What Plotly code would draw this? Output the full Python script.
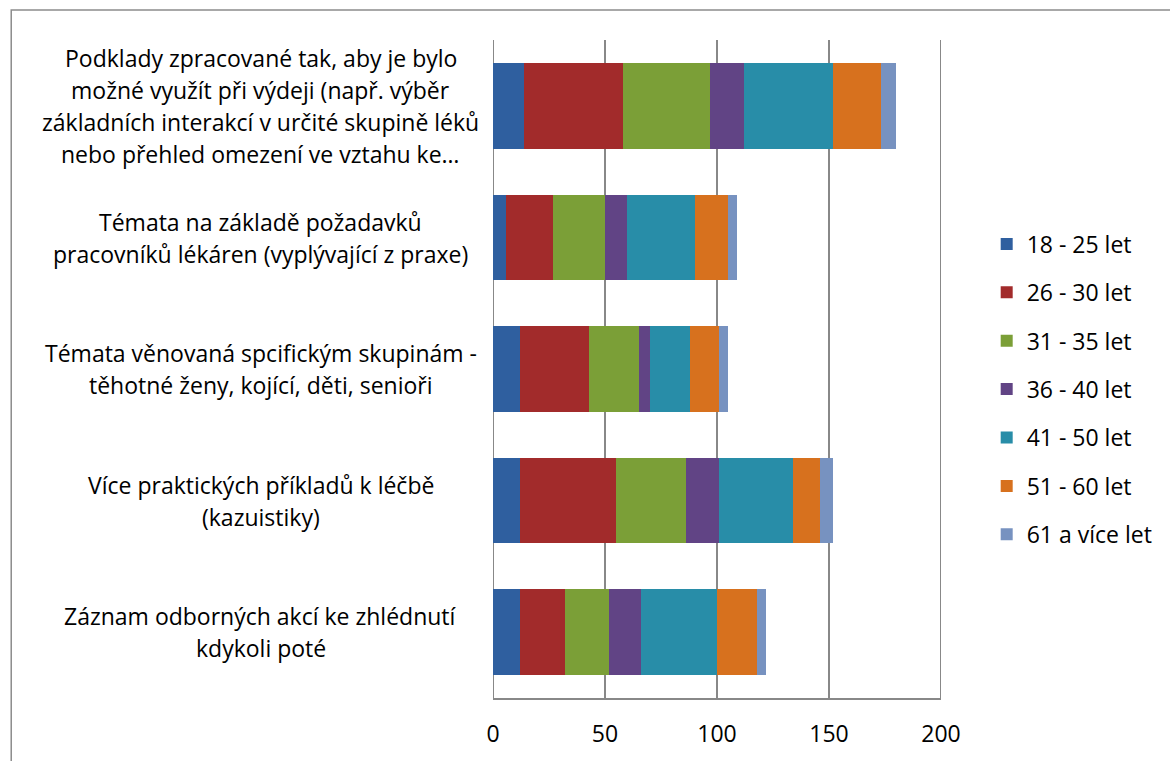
import plotly.graph_objects as go

# Survey topics (top to bottom), each split into text lines for the left-hand labels
topics = [
    ["Podklady zpracované tak, aby je bylo",
     "možné využít při výdeji (např. výběr",
     "základních interakcí v určité skupině léků",
     "nebo přehled omezení ve vztahu ke…"],
    ["Témata na základě požadavků",
     "pracovníků lékáren (vyplývající z praxe)"],
    ["Témata věnovaná spcifickým skupinám -",
     "těhotné ženy, kojící, děti, senioři"],
    ["Více praktických příkladů k léčbě",
     "(kazuistiky)"],
    ["Záznam odborných akcí ke zhlédnutí",
     "kdykoli poté"],
]
categories = [" ".join(t) for t in topics]

# Age groups and their counts per topic
age_groups = ["18 - 25 let", "26 - 30 let", "31 - 35 let", "36 - 40 let",
              "41 - 50 let", "51 - 60 let", "61 a více let"]
age_18_25 = [14, 6, 12, 12, 12]
age_26_30 = [44, 21, 31, 43, 20]
age_31_35 = [39, 23, 22, 31, 20]
age_36_40 = [15, 10, 5, 15, 14]
age_41_50 = [40, 30, 18, 33, 34]
age_51_60 = [21, 15, 13, 12, 18]
age_61_up = [7, 4, 4, 6, 4]
series = [age_18_25, age_26_30, age_31_35, age_36_40, age_41_50, age_51_60, age_61_up]

x_ticks = [0, 50, 100, 150, 200]

colors = ["#2F5F9F", "#A22B2B", "#7B9F37", "#614485", "#288DA8", "#D7711E", "#7792C0"]

FONT = "'Open Sans', sans-serif"
GRID = "#888888"

fig = go.Figure()
for i, (name, vals) in enumerate(zip(age_groups, series)):
    fig.add_trace(go.Bar(
        y=categories, x=vals, name=name, orientation="h",
        marker=dict(color=colors[i], line=dict(width=0)),
        legendgroup=f"g{i}",
    ))

# Left-hand category labels, centred line by line
W, H = 1170, 761
L, R, T, B = 493, 226, 40, 61
pw = W - L - R
ph = H - T - B
label_cx = 259
line_h = 32
for cat, lines in zip(categories, topics):
    n = len(lines)
    for j, line in enumerate(lines):
        fig.add_annotation(
            x=(label_cx - L) / pw, xref="paper", xanchor="center",
            y=cat, yref="y", yanchor="middle",
            yshift=((n - 1) / 2 - j) * line_h,
            text=line, showarrow=False,
            font=dict(family=FONT, size=23, color="#000000"),
        )

# Gridlines at both ends of the value range (the inner ones come from the axis)
for v in (x_ticks[0], x_ticks[-1]):
    fig.add_shape(type="line", xref="x", yref="paper", x0=v, x1=v, y0=0, y1=1,
                  line=dict(color=GRID, width=2), layer="below")

# Outer chart frame
fig.add_shape(
    type="rect", xref="paper", yref="paper",
    x0=(8 - L) / pw, x1=(1180 - L) / pw,
    y0=-(775 - (H - B)) / ph, y1=((H - B) - 10) / ph,
    line=dict(color="#8C8C8C", width=1.5), fillcolor="rgba(0,0,0,0)", layer="below",
)

fig.update_layout(
    width=W, height=H,
    margin=dict(l=L, r=R, t=T, b=B, pad=0),
    barmode="stack", bargap=0.35,
    plot_bgcolor="white", paper_bgcolor="white",
    font=dict(family=FONT, size=23, color="#000000"),
    showlegend=True,
    legend=dict(
        x=(990 - L) / pw, xanchor="left",
        y=((H - B) - 223) / ph, yanchor="top",
        traceorder="grouped", tracegroupgap=15.5,
        font=dict(family=FONT, size=23, color="#000000"),
        bgcolor="rgba(0,0,0,0)",
    ),
    xaxis=dict(
        range=[0, 200], tickvals=x_ticks, ticktext=[str(v) for v in x_ticks],
        showgrid=True, gridcolor=GRID, gridwidth=2,
        showline=True, linecolor=GRID, linewidth=2,
        zeroline=False, ticks="", ticklabelstandoff=14,
        tickfont=dict(family=FONT, size=23, color="#000000"),
        fixedrange=True,
    ),
    yaxis=dict(
        categoryorder="array", categoryarray=categories, autorange="reversed",
        showticklabels=False, showgrid=False, zeroline=False,
        showline=False, ticks="", fixedrange=True,
    ),
)

fig.write_html("out.html")
